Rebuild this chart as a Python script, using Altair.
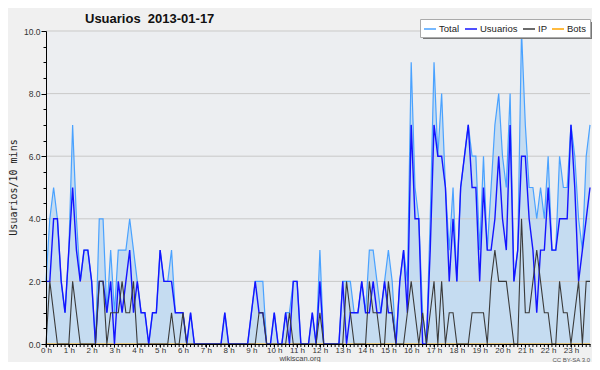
import altair as alt
import pandas as pd

# 10-minute slots, 0 h .. 23 h 50
usuarios = [
    2, 2, 4, 4, 2, 1, 3, 5, 3, 2, 3, 3,
    2, 0, 2, 2, 1, 2, 0, 2, 1, 2, 3, 1,
    2, 1, 1, 0, 1, 1, 3, 2, 2, 2, 1, 1,
    1, 0, 1, 0, 0, 0, 0, 0, 0, 0, 0, 1,
    0, 0, 0, 0, 0, 0, 1, 2, 1, 1, 0, 0,
    1, 0, 0, 1, 0, 2, 2, 0, 0, 0, 1, 0,
    2, 0, 0, 0, 0, 0, 2, 0, 1, 1, 1, 2,
    1, 1, 2, 1, 1, 2, 1, 1, 0, 2, 3, 1,
    7, 4, 4, 0, 0, 3, 7, 6, 6, 5, 2, 4,
    2, 5, 6, 7, 5, 5, 2, 5, 3, 3, 4, 6,
    4, 3, 7, 2, 3, 6, 6, 4, 3, 1, 3, 3,
    5, 3, 3, 4, 4, 4, 7, 5, 2, 3, 4, 5,
]
ip = [
    0, 2, 1, 0, 0, 0, 0, 2, 1, 0, 0, 0,
    0, 0, 2, 2, 0, 1, 1, 1, 2, 1, 1, 2,
    0, 0, 0, 0, 0, 0, 0, 0, 0, 1, 0, 0,
    1, 0, 0, 0, 0, 0, 0, 0, 0, 0, 0, 0,
    0, 0, 0, 0, 0, 0, 0, 0, 1, 1, 0, 0,
    0, 0, 0, 0, 1, 0, 0, 0, 0, 0, 0, 0,
    1, 0, 0, 0, 0, 0, 0, 2, 1, 0, 0, 0,
    0, 2, 1, 1, 0, 0, 2, 1, 0, 0, 0, 1,
    2, 1, 0, 1, 0, 1, 2, 0, 2, 0, 1, 1,
    0, 0, 0, 0, 1, 1, 1, 1, 0, 2, 3, 2,
    2, 2, 1, 0, 0, 4, 1, 1, 2, 3, 2, 1,
    1, 0, 0, 2, 1, 1, 0, 1, 2, 0, 2, 2,
]
total = [
    2, 4, 5, 4, 2, 1, 3, 7, 4, 2, 3, 3,
    2, 0, 4, 4, 1, 3, 1, 3, 3, 3, 4, 3,
    2, 1, 1, 0, 1, 1, 3, 2, 2, 3, 1, 1,
    1, 0, 1, 0, 0, 0, 0, 0, 0, 0, 0, 1,
    0, 0, 0, 0, 0, 0, 1, 2, 2, 2, 0, 0,
    1, 0, 0, 1, 1, 2, 2, 0, 0, 0, 1, 0,
    3, 0, 0, 0, 0, 0, 2, 2, 2, 1, 1, 2,
    1, 3, 3, 2, 1, 2, 3, 2, 0, 2, 3, 2,
    9, 5, 4, 1, 0, 4, 9, 6, 8, 5, 3, 5,
    2, 5, 6, 7, 6, 6, 3, 6, 3, 5, 7, 8,
    6, 5, 8, 2, 3, 10, 7, 5, 5, 4, 5, 4,
    6, 3, 3, 6, 5, 5, 7, 6, 4, 3, 6, 7,
]
bots = [
    0, 0, 0, 0, 0, 0, 0, 0, 0, 0, 0, 0,
    0, 0, 0, 0, 0, 0, 0, 0, 0, 0, 0, 0,
    0, 0, 0, 0, 0, 0, 0, 0, 0, 0, 0, 0,
    0, 0, 0, 0, 0, 0, 0, 0, 0, 0, 0, 0,
    0, 0, 0, 0, 0, 0, 0, 0, 0, 0, 0, 0,
    0, 0, 0, 0, 0, 0, 0, 0, 0, 0, 0, 0,
    0, 0, 0, 0, 0, 0, 0, 0, 0, 0, 0, 0,
    0, 0, 0, 0, 0, 0, 0, 0, 0, 0, 0, 0,
    0, 0, 0, 0, 0, 0, 0, 0, 0, 0, 0, 0,
    0, 0, 0, 0, 0, 0, 0, 0, 0, 0, 0, 0,
    0, 0, 0, 0, 0, 0, 0, 0, 0, 0, 0, 0,
    0, 0, 0, 0, 0, 0, 0, 0, 0, 0, 0, 0,
]
series_names = ["Total", "Usuarios", "IP", "Bots"]
series_colors = ["#4aa2ff", "#1414ff", "#3a3a3a", "#ffa500"]
grid_values = [2, 4, 6, 8, 10]
y_ticks = [0, 0.5, 1, 1.5, 2, 2.5, 3, 3.5, 4, 4.5, 5, 5.5, 6, 6.5, 7, 7.5, 8, 8.5, 9, 9.5, 10]
hour_ticks = [0, 6, 12, 18, 24, 30, 36, 42, 48, 54, 60, 66, 72, 78, 84, 90, 96, 102, 108, 114, 120, 126, 132, 138]

title_text = "Usuarios\u00a0\u00a02013-01-17"
y_title = "Usuarios/10 mins"
site_text = "wikiscan.org"
lic_text = "CC BY-SA 3.0"

FONT = "Liberation Sans, Arial, sans-serif"

W, H = 544, 313

slots = list(range(len(total)))
df = pd.DataFrame({"i": slots, "Total": total, "Usuarios": usuarios, "IP": ip, "Bots": bots})
long = df.melt("i", var_name="serie", value_name="v")

xscale = alt.Scale(domain=[0, 143], nice=False, zero=False)
yscale = alt.Scale(domain=[0, 10], nice=False)

x_axis = alt.Axis(
    values=hour_ticks, labelExpr="datum.value / 6 + ' h'", title=None, grid=False,
    tickSize=3, tickColor="#000", domainColor="#000", labelFontSize=8, labelFont=FONT,
    labelColor="#333", labelPadding=-1, labelOverlap=False, labelFlush=False, zindex=1,
)
y_axis = alt.Axis(
    values=y_ticks,
    labelExpr="datum.value % 2 === 0 ? format(datum.value, '.1f') : ''",
    grid=False,
    tickSize={"condition": {"test": "datum.value % 2 === 0", "value": 5}, "value": 3},
    tickColor="#000", domainColor="#000", labelFontSize=8.5, labelFont=FONT,
    labelColor="#333", labelPadding=1, labelOverlap=False, zindex=1, title=None,
)

color_scale = alt.Scale(domain=series_names, range=series_colors)
legend = alt.Legend(
    orient="none", legendX=374, legendY=-12, direction="horizontal", title=None,
    symbolType="stroke", symbolSize=144, symbolStrokeWidth=1.5, labelFontSize=9.5,
    labelFont=FONT, labelColor="#222", fillColor="white", strokeColor="#aaaaaa",
    padding=3, columnPadding=2, labelOffset=2, gridAlign="none",
)

X = alt.X("i:Q", scale=xscale, axis=x_axis)
Y = lambda f: alt.Y(f, scale=yscale, axis=y_axis)

area = alt.Chart(df).mark_area(color="#c5dcf1", opacity=1).encode(x=X, y=Y("Total:Q"))

grid = alt.Chart(pd.DataFrame({"g": grid_values})).mark_rule(color="#c9c9c9", strokeWidth=1).encode(
    y=Y("g:Q")
)

minor = alt.Chart(df).mark_rule(color="#000", strokeWidth=1).encode(
    x=X, y=alt.value(H), y2=alt.value(H + 3)
)


def line(name, width):
    return alt.Chart(long).transform_filter(alt.datum.serie == name).mark_line(
        strokeWidth=width, interpolate="linear"
    ).encode(
        x=X,
        y=Y("v:Q"),
        color=alt.Color("serie:N", scale=color_scale, legend=legend),
    )


shadow = alt.Chart(pd.DataFrame({"s": [1]})).mark_rect(color="#777777").encode(
    x=alt.value(377), x2=alt.value(549), y=alt.value(-9), y2=alt.value(8)
)

title = alt.Chart(pd.DataFrame({"t": [title_text]})).mark_text(
    align="left", baseline="alphabetic", fontSize=13, fontWeight="bold", font=FONT, color="#111"
).encode(x=alt.value(39), y=alt.value(-8), text="t:N")

ytitle = alt.Chart(pd.DataFrame({"t": [y_title]})).mark_text(
    align="center", baseline="middle", angle=270, fontSize=10, font="DejaVu Sans Mono", color="#222"
).encode(x=alt.value(-32), y=alt.value(H / 2), text="t:N")

site = alt.Chart(pd.DataFrame({"t": [site_text]})).mark_text(
    align="center", baseline="alphabetic", fontSize=7.5, font=FONT, color="#444"
).encode(x=alt.value(254), y=alt.value(329.5), text="t:N")

lic = alt.Chart(pd.DataFrame({"t": [lic_text]})).mark_text(
    align="right", baseline="alphabetic", fontSize=6, font=FONT, color="#555"
).encode(x=alt.value(544), y=alt.value(330.5), text="t:N")

chart = alt.layer(
    area, grid, line("Bots", 1.2), line("Total", 1.2), line("Usuarios", 1.4), line("IP", 1.1),
    minor, shadow, title, ytitle, site, lic,
).properties(
    width=W, height=H,
    autosize=alt.AutoSizeParams(type="none"),
    padding={"left": 38, "top": 23, "right": 2, "bottom": 18},
    background="#f0f0f0",
).configure_view(fill="#eceef1", strokeWidth=0)

chart.save("out.html", embed_options={"renderer": "svg", "actions": False})
